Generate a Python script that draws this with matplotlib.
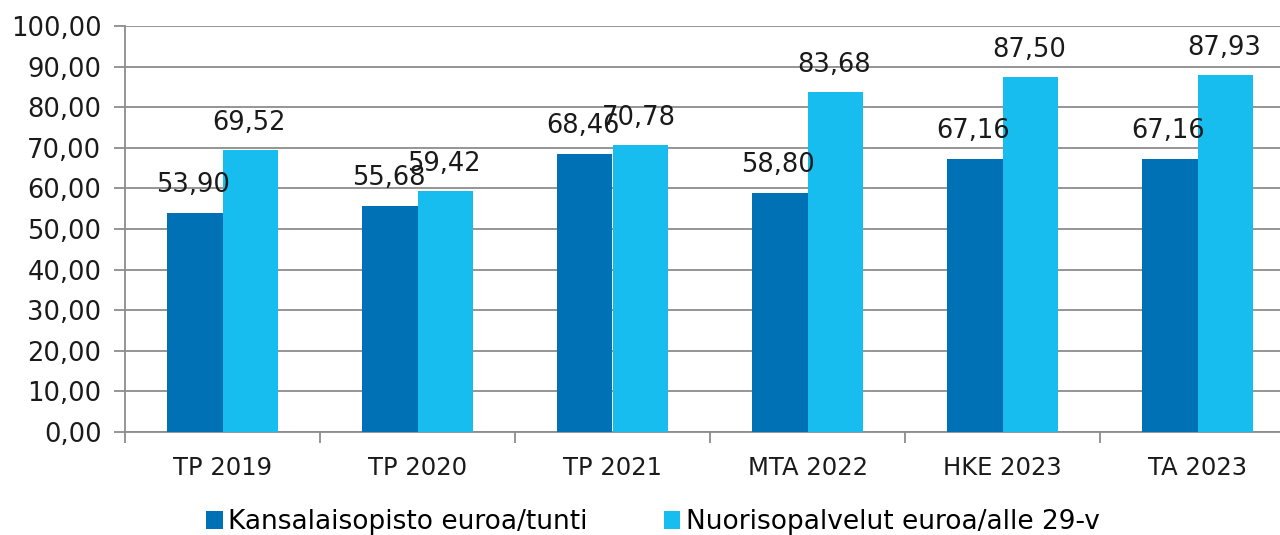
import numpy as np
import matplotlib.pyplot as plt

categories = ["TP 2019", "TP 2020", "TP 2021", "MTA 2022", "HKE 2023", "TA 2023"]
kansalaisopisto = [53.90, 55.68, 68.46, 58.80, 67.16, 67.16]
nuorisopalvelut = [69.52, 59.42, 70.78, 83.68, 87.50, 87.93]
series_names = ["Kansalaisopisto euroa/tunti", "Nuorisopalvelut euroa/alle 29-v"]

plt.rcParams["font.family"] = ["DejaVu Sans"]

fig = plt.figure(figsize=(12.8, 5.35), dpi=100)
ax = fig.add_axes([125 / 1280, 1 - 432 / 535, 1170 / 1280, 406 / 535])

x = np.arange(len(categories))
w = 0.285
dark = "#0071b5"
light = "#17bdee"
txt = "#1a1a1a"
b1 = ax.bar(x - w / 2, kansalaisopisto, w, color=dark, label=series_names[0], zorder=3)
b2 = ax.bar(x + w / 2, nuorisopalvelut, w, color=light, label=series_names[1], zorder=3)

def fmt(v):
    return "{:.2f}".format(v).replace(".", ",")

# data labels (the neighbouring ones overlap in the original too)
for bars, vals, dy in ((b1, kansalaisopisto, 11), (b2, nuorisopalvelut, 10)):
    for rect, v in zip(bars, vals):
        ax.annotate(fmt(v), (rect.get_x() + rect.get_width() / 2, v),
                    xytext=(-1, dy), textcoords="offset points",
                    ha="center", va="bottom", fontsize=18.5, color=txt, zorder=4)

ax.set_ylim(0, 100)
ax.set_xlim(-0.5, len(categories) - 0.5)
ax.set_yticks(np.arange(0, 101, 10))
ax.set_yticklabels([fmt(v) for v in np.arange(0, 101, 10)], fontsize=18.5, color=txt)
ax.yaxis.grid(True, color="#8c8c8c", linewidth=1.3, zorder=0)
ax.set_xticks(x)
ax.set_xticklabels(categories, fontsize=17.5, color=txt)
ax.set_xticks(np.arange(-0.5, len(categories), 1), minor=True)
ax.tick_params(axis="x", which="major", length=0, pad=17)
ax.tick_params(axis="x", which="minor", length=8, color="#8c8c8c", width=1.3)
ax.tick_params(axis="y", length=8, color="#8c8c8c", width=1.3, pad=9)
for s in ("top", "right"):
    ax.spines[s].set_visible(False)
for s in ("left", "bottom"):
    ax.spines[s].set_color("#8c8c8c")
    ax.spines[s].set_linewidth(1.3)

fig.legend(handles=[b1, b2], loc="lower center", bbox_to_anchor=(0.51, -0.045), ncol=2,
           frameon=False, fontsize=19, handlelength=0.62, handleheight=0.62,
           handletextpad=0.2, columnspacing=2.9)

fig.savefig("out.png", dpi=100)
